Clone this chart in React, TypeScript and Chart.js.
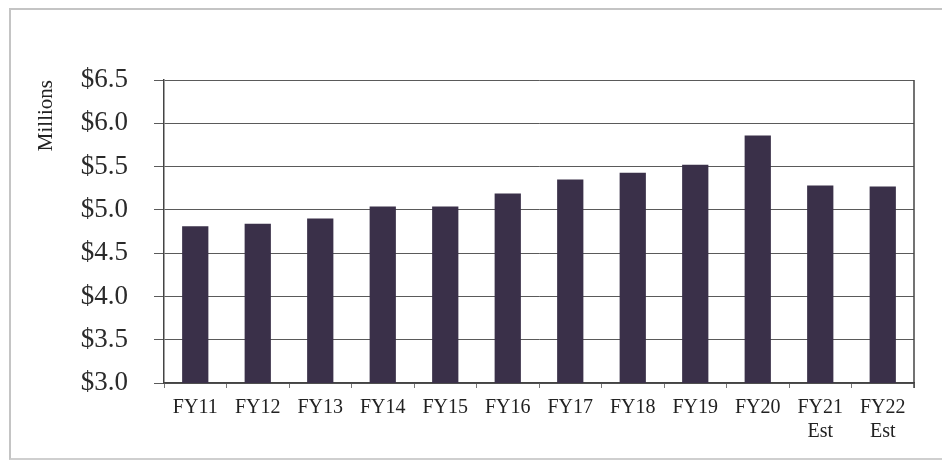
import React, { useEffect, useRef } from "react";
import { Chart, registerables } from "chart.js";

Chart.register(...registerables);

// Fiscal years shown along the bottom axis (multi-line for estimates)
const fiscalYears: (string | string[])[] = [
  "FY11", "FY12", "FY13", "FY14", "FY15", "FY16",
  "FY17", "FY18", "FY19", "FY20", ["FY21", "Est"], ["FY22", "Est"],
];

// Annual amounts, in millions of dollars
const amounts: number[] = [
  4.81, 4.84, 4.90, 5.04, 5.04, 5.19, 5.35, 5.43, 5.52, 5.86, 5.28, 5.27,
];

// Value axis range and spacing (millions)
const axisMin = 3.0;
const axisMax = 6.5;
const axisStep = 0.5;
const axisTitle = "Millions";

const SERIF = "'Liberation Serif', 'Times New Roman', serif";

// Strokes the right-hand edge of the plot area to close the frame
const plotFrame = {
  id: "plotFrame",
  afterDraw(chart: Chart) {
    const { ctx, chartArea } = chart;
    ctx.save();
    ctx.strokeStyle = "#444";
    ctx.lineWidth = 1.5;
    ctx.beginPath();
    ctx.moveTo(chartArea.right, chartArea.top);
    ctx.lineTo(chartArea.right, chartArea.bottom + 5);
    ctx.stroke();
    ctx.restore();
  },
};

export default function App() {
  const canvasRef = useRef<HTMLCanvasElement | null>(null);

  useEffect(() => {
    const canvas = canvasRef.current;
    if (!canvas) return;
    const chart = new Chart(canvas, {
      type: "bar",
      data: {
        labels: fiscalYears,
        datasets: [
          {
            data: amounts,
            backgroundColor: "#3a3049",
            borderWidth: 0,
            barPercentage: 0.42,
            categoryPercentage: 1,
          },
        ],
      },
      plugins: [plotFrame],
      options: {
        animation: false,
        responsive: false,
        devicePixelRatio: 1,
        layout: { padding: { top: 80, right: 28, left: 0, bottom: 0 } },
        plugins: {
          legend: { display: false },
          tooltip: { enabled: false },
        },
        scales: {
          x: {
            afterFit(scale: any) {
              scale.height = 79;
            },
            grid: {
              display: true,
              drawOnChartArea: false,
              drawTicks: true,
              tickLength: 5,
              color: "#777",
              offset: true,
            },
            border: { display: true, color: "#444", width: 1.5 },
            ticks: {
              color: "#222",
              padding: 8,
              maxRotation: 0,
              autoSkip: false,
              font: { family: SERIF, size: 20, lineHeight: 1.2 },
            },
          },
          y: {
            min: axisMin,
            max: axisMax,
            afterFit(scale: any) {
              scale.width = 164;
            },
            grid: {
              color: "#5a5a5a",
              lineWidth: 1,
              drawTicks: true,
              tickLength: 10,
            },
            border: { display: true, color: "#444", width: 1.5 },
            ticks: {
              stepSize: axisStep,
              padding: 26,
              color: "#2a2a2a",
              font: { family: SERIF, size: 27 },
              callback: (v: any) => "$" + Number(v).toFixed(1),
            },
            title: {
              display: true,
              text: axisTitle,
              align: "end",
              color: "#222",
              padding: { top: 34, bottom: 0 },
              font: { family: SERIF, size: 21 },
            },
          },
        },
      },
    });
    return () => chart.destroy();
  }, []);

  return (
    <div
      style={{
        position: "fixed",
        left: 0,
        top: 0,
        width: 942,
        height: 462,
        background: "#fff",
        overflow: "hidden",
      }}
    >
      <div
        style={{
          position: "absolute",
          left: 9,
          top: 8,
          width: 950,
          height: 448,
          borderLeft: "2px solid #c4c4c4",
          borderTop: "2px solid #c4c4c4",
          borderBottom: "2px solid #cfcfcf",
        }}
      />
      <canvas
        ref={canvasRef}
        width={942}
        height={462}
        style={{ position: "absolute", left: 0, top: 0, width: 942, height: 462 }}
      />
    </div>
  );
}
